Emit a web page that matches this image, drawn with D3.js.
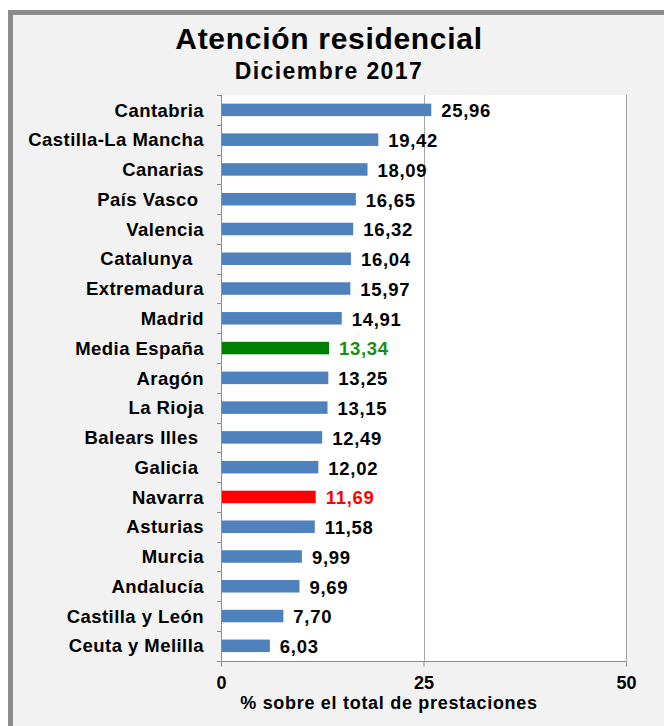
<!DOCTYPE html>
<html>
<head>
<meta charset="utf-8">
<script src="https://cdn.jsdelivr.net/npm/d3@7"></script>
<style>
  html, body { margin: 0; padding: 0; background: #ffffff; }
  svg { display: block; }
  text { font-family: "Liberation Sans", Arial, sans-serif; font-weight: bold; white-space: pre; }
</style>
</head>
<body>
<svg id="chart" width="664" height="726"></svg>
<script>
const categories = ["Cantabria", "Castilla-La Mancha", "Canarias", "País Vasco\u00a0", "Valencia", "Catalunya\u00a0\u00a0", "Extremadura", "Madrid", "Media España", "Aragón", "La Rioja", "Balears Illes\u00a0", "Galicia\u00a0", "Navarra", "Asturias", "Murcia", "Andalucía", "Castilla y León", "Ceuta y Melilla"];
const values = [25.96, 19.42, 18.09, 16.65, 16.32, 16.04, 15.97, 14.91, 13.34, 13.25, 13.15, 12.49, 12.02, 11.69, 11.58, 9.99, 9.69, 7.70, 6.03];
const highlightGreen = "Media España";
const highlightRed = "Navarra";
const xTicks = [0, 25, 50];
const title = "Atención residencial";
const subtitle = "Diciembre 2017";
const xAxisTitle = "% sobre el total de prestaciones";

const svg = d3.select("#chart");
const plot = { left: 221, right: 626, top: 95, bottom: 660.7 };

// outer frame
svg.append("rect").attr("x", 10.5).attr("y", 12.5).attr("width", 720).attr("height", 800)
  .attr("fill", "#f2f2f2").attr("stroke", "#8c8c8c").attr("stroke-width", 5);

// titles
svg.append("text").attr("x", 329).attr("y", 48.5).attr("text-anchor", "middle")
  .attr("font-size", 30).attr("letter-spacing", 0.7).attr("fill", "#000").text(title);
svg.append("text").attr("x", 329).attr("y", 78.5).attr("text-anchor", "middle")
  .attr("font-size", 23).attr("letter-spacing", 1.4).attr("fill", "#000").text(subtitle);

const x = d3.scaleLinear().domain([0, 50]).range([plot.left, plot.right]);
const y = d3.scaleBand().domain(categories).range([plot.top, plot.bottom]).paddingInner(0.58).paddingOuter(0.29);

// plot background
svg.append("rect").attr("x", plot.left).attr("y", plot.top)
  .attr("width", plot.right - plot.left).attr("height", plot.bottom - plot.top).attr("fill", "#ffffff");

// gridlines
svg.append("g").selectAll("line").data(xTicks.filter(d => d > 0)).join("line")
  .attr("x1", d => Math.round(x(d)) + 0.5).attr("x2", d => Math.round(x(d)) + 0.5)
  .attr("y1", plot.top).attr("y2", plot.bottom)
  .attr("stroke", "#a6a6a6").attr("stroke-width", 1);

const color = d => d === highlightGreen ? "#008000" : (d === highlightRed ? "#ff0000" : "#4f81bd");
const labelColor = d => d === highlightGreen ? "#1a8c1a" : (d === highlightRed ? "#ff0000" : "#000000");

// bars
svg.append("g").selectAll("rect").data(categories).join("rect")
  .attr("x", x(0) + 1).attr("y", d => y(d))
  .attr("width", (d, i) => x(values[i]) - x(0) - 1).attr("height", y.bandwidth())
  .attr("fill", d => color(d));

// value labels
svg.append("g").selectAll("text").data(categories).join("text")
  .attr("x", (d, i) => x(values[i]) + 10).attr("y", d => y(d) + y.bandwidth() / 2)
  .attr("dy", "0.4em").attr("font-size", 18.5).attr("letter-spacing", 0.7)
  .attr("fill", d => labelColor(d))
  .text((d, i) => values[i].toFixed(2).replace(".", ","));

// bottom axis
const xAxis = d3.axisBottom(x).tickValues(xTicks).tickSize(5).tickFormat(d => d);
const gx = svg.append("g").attr("transform", `translate(0,${Math.round(plot.bottom) + 0.5})`).call(xAxis);
gx.select(".domain").attr("stroke", "#8c8c8c").attr("d", `M${plot.left},0H${plot.right}`);
gx.selectAll(".tick line").attr("stroke", "#8c8c8c");
gx.selectAll(".tick text").attr("font-size", 18).attr("fill", "#000").attr("y", 15).attr("dy", "0.71em")
  .attr("font-family", "'Liberation Sans', Arial, sans-serif").attr("font-weight", "bold");
gx.attr("font-size", null).attr("font-family", null);

// left axis
const bounds = d3.range(categories.length + 1).map(i => plot.top + i * (plot.bottom - plot.top) / categories.length);
const gy = svg.append("g");
gy.append("line").attr("x1", plot.left + 0.5).attr("x2", plot.left + 0.5)
  .attr("y1", plot.top).attr("y2", plot.bottom).attr("stroke", "#8c8c8c");
gy.selectAll("line.t").data(bounds).join("line").attr("class", "t")
  .attr("x1", plot.left - 4).attr("x2", plot.left + 0.5)
  .attr("y1", d => Math.round(d) + 0.5).attr("y2", d => Math.round(d) + 0.5)
  .attr("stroke", "#8c8c8c");

// category labels
svg.append("g").selectAll("text").data(categories).join("text")
  .attr("x", 204).attr("y", d => y(d) + y.bandwidth() / 2).attr("dy", "0.36em")
  .attr("text-anchor", "end").attr("font-size", 18.5).attr("letter-spacing", 0.45)
  .attr("fill", "#000").text(d => d);

// axis title
svg.append("text").attr("x", 389).attr("y", 709).attr("text-anchor", "middle")
  .attr("font-size", 18).attr("letter-spacing", 0.7).attr("fill", "#000").text(xAxisTitle);
</script>
</body>
</html>
